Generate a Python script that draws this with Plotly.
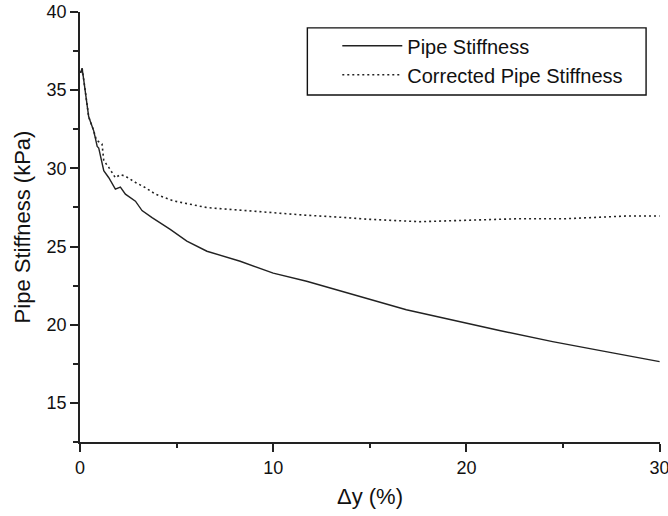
import plotly.graph_objects as go

# Pipe stiffness (solid)
pipe_x = [0.03, 0.11, 0.2, 0.28, 0.45, 0.71, 0.89, 0.97, 1.11, 1.23, 1.49, 1.83, 2.09, 2.35, 2.87,
          3.21, 3.73, 4.67, 5.53, 6.57, 8.29, 10.0, 11.73, 13.28, 16.89, 21.71, 24.46, 27.22, 30.0]
pipe_y = [36.1, 36.4, 35.6, 34.8, 33.3, 32.4, 31.4, 31.3, 30.6, 29.85, 29.4, 28.67, 28.8, 28.35, 27.9,
          27.3, 26.85, 26.1, 25.35, 24.7, 24.06, 23.3, 22.78, 22.24, 20.96, 19.63, 18.92, 18.28, 17.64]

# Corrected pipe stiffness (dotted)
corr_x = [0.03, 0.11, 0.2, 0.28, 0.45, 0.71, 0.85, 1.14, 1.23, 1.49, 1.83, 2.09, 2.35, 2.87, 3.38,
          3.9, 4.84, 6.57, 8.29, 10.0, 11.73, 13.28, 15.0, 17.58, 20.16, 22.74, 25.15, 28.25, 30.0]
corr_y = [36.1, 36.4, 35.6, 34.8, 33.3, 32.4, 31.8, 31.56, 30.5, 30.06, 29.4, 29.6, 29.5, 29.1, 28.77,
          28.35, 27.92, 27.49, 27.32, 27.13, 27.0, 26.89, 26.74, 26.59, 26.7, 26.78, 26.78, 26.95, 26.95]

x_ticks = [0, 10, 20, 30]
y_ticks = [15, 20, 25, 30, 35, 40]

FONT = "Arial, Liberation Sans, Helvetica, sans-serif"

fig = go.Figure()
fig.add_trace(go.Scatter(x=pipe_x, y=pipe_y, mode="lines", name="Pipe Stiffness",
                         line=dict(color="#222222", width=1.4)))
fig.add_trace(go.Scatter(x=corr_x, y=corr_y, mode="lines", name="Corrected Pipe Stiffness",
                         line=dict(color="#222222", width=1.6, dash="2px,3px")))

fig.update_layout(
    width=668, height=516,
    margin=dict(l=80, r=8, t=12, b=74),
    paper_bgcolor="white", plot_bgcolor="white",
    font=dict(family=FONT, color="#111111", size=18),
    showlegend=True,
    legend=dict(x=0.4436, y=0.967, xanchor="left", yanchor="top",
                bgcolor="rgba(0,0,0,0)", borderwidth=0,
                font=dict(size=20, family=FONT, color="#111111"),
                itemwidth=60, tracegroupgap=0),
    shapes=[dict(type="rect", xref="paper", yref="paper",
                 x0=0.392, x1=0.976, y0=0.807, y1=0.963,
                 line=dict(color="#111111", width=1.4))],
)

fig.update_xaxes(
    range=[0, 30.02], tickvals=x_ticks, ticktext=[str(v) for v in x_ticks],
    showline=True, linecolor="#222222", linewidth=1.8, mirror=False,
    ticks="outside", ticklen=8, tickwidth=1.5, tickcolor="#222222",
    minor=dict(tickvals=[5, 15, 25], ticks="outside", ticklen=4, tickwidth=1.5, tickcolor="#222222", showgrid=False),
    showgrid=False, zeroline=False, automargin=False,
    ticklabeloverflow="allow",
    tickfont=dict(size=18),
    title=dict(text="Δy (%)", font=dict(size=22), standoff=12),
)
fig.update_yaxes(
    range=[12.5, 40], tickvals=y_ticks, ticktext=[str(v) for v in y_ticks],
    showline=True, linecolor="#222222", linewidth=1.8, mirror=False,
    ticks="outside", ticklen=8, tickwidth=1.5, tickcolor="#222222",
    minor=dict(tickvals=[12.5, 17.5, 22.5, 27.5, 32.5, 37.5], ticks="outside", ticklen=5, tickwidth=1.5, tickcolor="#222222", showgrid=False),
    showgrid=False, zeroline=False, automargin=False,
    ticklabeloverflow="allow",
    tickfont=dict(size=18),
    title=dict(text="Pipe Stiffness (kPa)", font=dict(size=22), standoff=10),
)

# remove the default page margin so the figure sits at the window's top-left corner
fig.write_html("out.html",
               config={"displayModeBar": False},
               post_script="document.body.style.margin='0';document.body.style.overflow='hidden';")
